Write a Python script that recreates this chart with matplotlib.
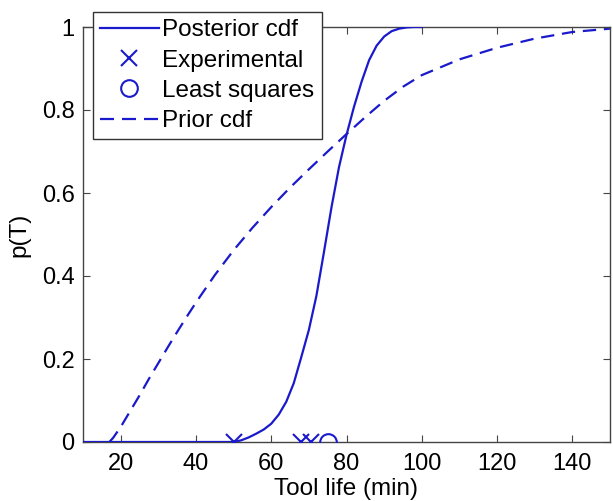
import matplotlib
matplotlib.use("Agg")
import matplotlib.pyplot as plt
from matplotlib.lines import Line2D

plt.rcParams['font.family'] = ['Liberation Sans', 'DejaVu Sans']

# Posterior cdf
posterior_x = [10, 50, 52, 54, 56, 58, 60, 62, 64, 66, 68, 70, 72, 74, 76, 78, 80,
               82, 84, 86, 88, 90, 92, 94, 96, 98, 100]
posterior_p = [0, 0, 0.004, 0.011, 0.02, 0.03, 0.044, 0.066, 0.097, 0.142, 0.205,
               0.27, 0.352, 0.457, 0.565, 0.662, 0.74, 0.808, 0.868, 0.92, 0.955,
               0.977, 0.99, 0.996, 0.999, 1.0, 1.0]

# Prior cdf
prior_x = [17, 18, 20, 22.5, 25, 27.5, 30, 32.5, 35, 37.5, 40, 45, 50, 55, 60, 65, 70,
           75, 80, 85, 90, 95, 100, 110, 120, 130, 140, 150]
prior_p = [0, 0.01, 0.036, 0.074, 0.112, 0.152, 0.19, 0.228, 0.265, 0.301, 0.336,
           0.402, 0.462, 0.516, 0.566, 0.613, 0.657, 0.70, 0.742, 0.783, 0.822,
           0.856, 0.884, 0.922, 0.95, 0.972, 0.988, 0.996]

# Data points
experimental_x = [50, 68, 70.5]
experimental_p = [0, 0, 0]
lsq_x = [75]
lsq_p = [0]

xticks = [20, 40, 60, 80, 100, 120, 140]
yticks = [0, 0.2, 0.4, 0.6, 0.8, 1]
ytick_labels = ['0', '0.2', '0.4', '0.6', '0.8', '1']

blue = '#1a1acc'

fig = plt.figure(figsize=(6.13, 5.01), dpi=100)
ax = fig.add_axes([83/613, 1 - 442/501, (610 - 83)/613, (442 - 27)/501])

ax.plot(prior_x, prior_p, color=blue, lw=1.6, dashes=(6, 3.5), label='Prior cdf', zorder=2)
ax.plot(posterior_x, posterior_p, color=blue, lw=1.6, label='Posterior cdf', zorder=3)
ax.plot(experimental_x, experimental_p, 'x', color=blue, ms=11, mew=1.5,
        label='Experimental', zorder=4)
ax.plot(lsq_x, lsq_p, 'o', color=blue, ms=12, mew=1.5, mfc='none',
        label='Least squares', zorder=4)

ax.set_xlim(10, 150)
ax.set_ylim(0, 1)
ax.set_xticks(xticks)
ax.set_yticks(yticks)
ax.set_yticklabels(ytick_labels)
ax.tick_params(direction='in', length=5, width=0.8, top=True, right=True,
               labelsize=17, colors='#444444', labelcolor='black', pad=6)
ax.tick_params(axis='x', pad=8)
for s in ax.spines.values():
    s.set_color('#444444')
    s.set_linewidth(1.0)

ax.set_xlabel('Tool life (min)', fontsize=17.5, labelpad=2)
ax.set_ylabel('p(T)', fontsize=17.5, labelpad=8)

handles = [
    Line2D([], [], color=blue, lw=1.6),
    Line2D([], [], color=blue, marker='x', ls='none', ms=11, mew=1.5),
    Line2D([], [], color=blue, marker='o', ls='none', ms=12, mew=1.5, mfc='none'),
    Line2D([], [], color=blue, lw=1.6, dashes=(6.3, 3.6)),
]
labels = ['Posterior cdf', 'Experimental', 'Least squares', 'Prior cdf']
leg = fig.legend(handles, labels, loc='upper left',
                 bbox_to_anchor=(93/613, 1 - 12/501), fontsize=17.5,
                 frameon=True, fancybox=False, framealpha=1, edgecolor='#333333',
                 borderpad=0.3, labelspacing=0.34, handlelength=2.4,
                 handletextpad=0.15, borderaxespad=0)
leg.get_frame().set_linewidth(1.0)

fig.savefig('out.png', dpi=100)
